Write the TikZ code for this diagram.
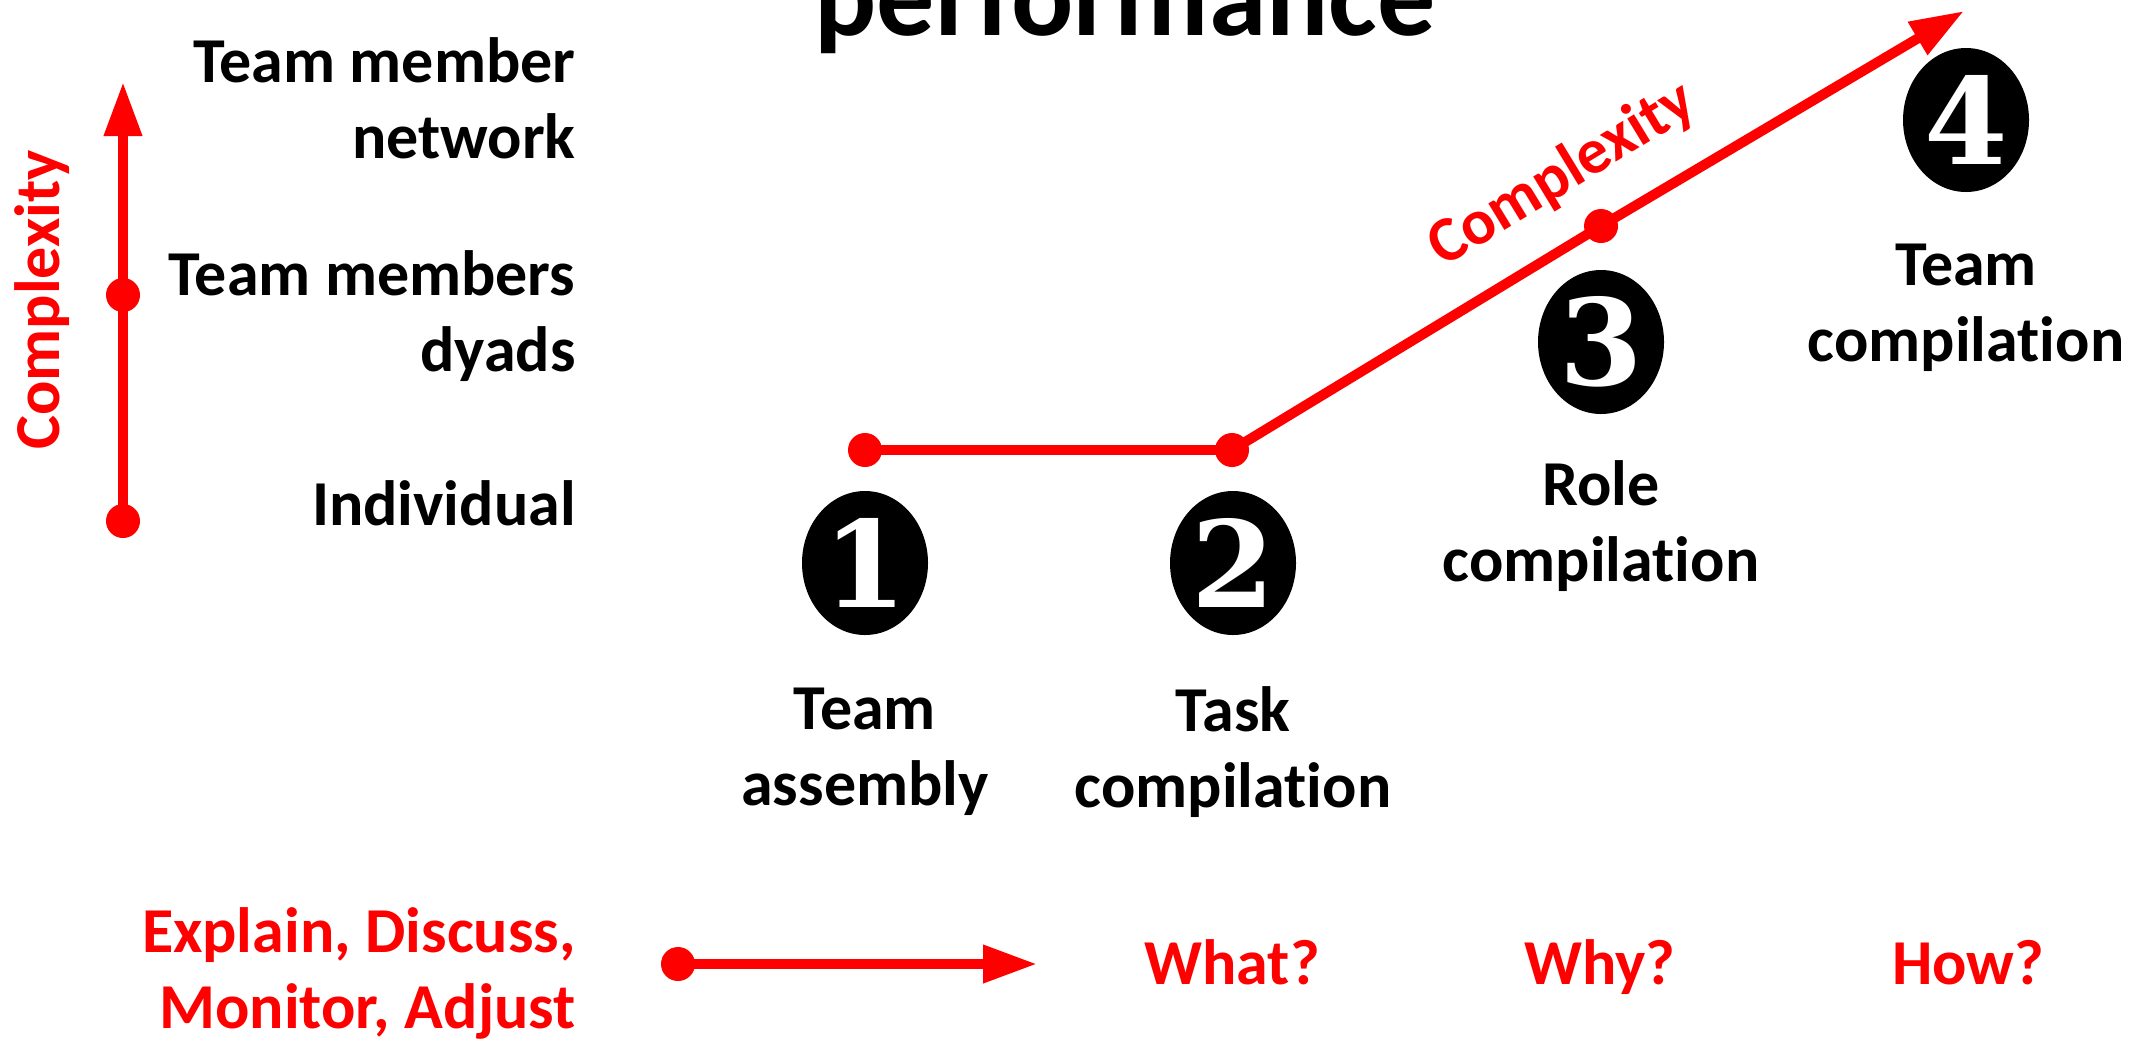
\documentclass[tikz,border=0pt]{standalone}
\usepackage{fontspec}
\setmainfont{Carlito}[Ligatures=NoCommon]
\newfontfamily\digitfont{DejaVu Serif}
\usetikzlibrary{arrows.meta,shapes.geometric}

\tikzset{
  lbl/.style={font=\fontsize{32}{38}\selectfont\bfseries, align=center, inner sep=0pt},
  redlbl/.style={lbl, text=red},
  numball/.style={ellipse, fill=black, minimum width=63pt, minimum height=72pt, inner sep=0pt,
    text=white, font=\digitfont\bfseries\fontsize{60}{60}\selectfont},
  reddot/.style={circle, fill=red, minimum size=17pt, inner sep=0pt},
  redline/.style={draw=red, line width=5pt},
  redarrow/.style={redline, -{Triangle[length=27pt,width=18pt]}}
}

\begin{document}
\begin{tikzpicture}[x=0.5pt,y=-0.5pt]
\useasboundingbox (0,0) rectangle (2139,1040);

% title, cut by the page
\node (title) [font=\fontsize{58}{58}\selectfont\bfseries, anchor=base, inner sep=0pt] at (1125,35) {performance};

% left axis
\coordinate (axtop) at (123,82);
\node (axmid) [reddot] at (123,295) {};
\node (axlow) [reddot] at (123,521) {};
\draw [redarrow] (axlow.center) -- (axtop);
\node (axname) [redlbl, rotate=90] at (42,300) {Complexity};

\node (lvl3) [lbl, align=right, anchor=east] at (576,98) {Team member\\network};
\node (lvl2) [lbl, align=right, anchor=east] at (576,316) {Team members\\dyads};
\node (lvl1) [lbl, align=right, anchor=east] at (576,503) {Individual};

% stages
\node (d1) [reddot] at (865,450) {};
\node (d2) [reddot] at (1232,450) {};
\node (d3) [reddot] at (1601,226) {};
\coordinate (tip) at (1964,11);
\draw [redline] (d1.center) -- (d2.center);
\draw [redarrow] (d2.center) -- (d3.center) -- (tip);
\node (cplx) [redlbl, rotate=31.3] at (1562,175) {Complexity};

\node (n1) [numball] at (865,563) {1};
\node (n2) [numball] at (1233,563) {2};
\node (n3) [numball] at (1601,342) {3};
\node (n4) [numball] at (1966,120) {4};

\node (s1) [lbl] at (865,752) {Team\\assembly};
\node (s2) [lbl] at (1233,752) {Task\\compilation};
\node (s3) [lbl] at (1601,526) {Role\\compilation};
\node (s4) [lbl] at (1966,308) {Team\\compilation};

% bottom row
\node (acts) [redlbl, align=right, anchor=east] at (576,973) {Explain, Discuss,\\Monitor, Adjust};
\node (b0) [reddot] at (678,964) {};
\coordinate (b1) at (1037,964);
\draw [redarrow] (b0.center) -- (b1);
\node (q1) [redlbl, anchor=base] at (1232,984) {What?};
\node (q2) [redlbl, anchor=base] at (1600,984) {Why?};
\node (q3) [redlbl, anchor=base] at (1968,984) {How?};
\end{tikzpicture}
\end{document}
